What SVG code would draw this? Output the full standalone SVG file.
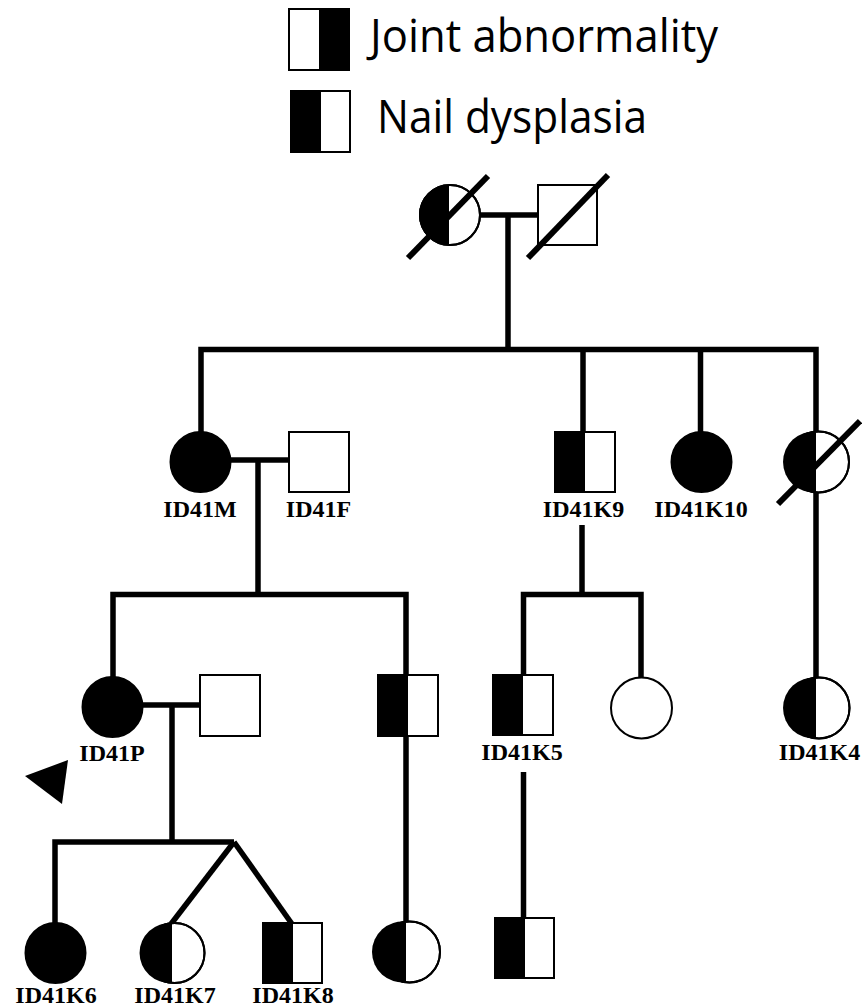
<svg xmlns="http://www.w3.org/2000/svg" width="862" height="1008" viewBox="0 0 862 1008">
  <style>
    .ln { stroke: #000; stroke-width: 5.5; fill: none; stroke-linejoin: miter; stroke-linecap: butt; }
    .shape { fill: #fff; stroke: #000; stroke-width: 2; }
    .outline { fill: none; stroke: #000; stroke-width: 2; }
    .half { fill: #000; stroke: none; }
    .full { fill: #000; stroke: #000; stroke-width: 2; }
    .slash { stroke: #000; stroke-width: 6; stroke-linecap: butt; }
    .label { font-family: "Liberation Serif", "Times New Roman", serif; font-weight: bold; font-size: 24px; text-anchor: middle; fill: #000; }
    .legend { font-family: "Open Sans", "Liberation Sans", sans-serif; font-size: 46px; fill: #000; }
  </style>

  <!-- Legend -->
  <g id="legend">
    <g id="legend-joint">
      <rect class="shape" x="289" y="9" width="60" height="61"/>
      <rect class="half" x="319" y="9" width="30" height="61"/>
      <rect class="outline" x="289" y="9" width="60" height="61"/>
      <text class="legend" x="370" y="52" textLength="348" lengthAdjust="spacingAndGlyphs">Joint abnormality</text>
    </g>
    <g id="legend-nail">
      <rect class="shape" x="291" y="91" width="59" height="61"/>
      <rect class="half" x="291" y="91" width="30" height="61"/>
      <rect class="outline" x="291" y="91" width="59" height="61"/>
      <text class="legend" x="377" y="133" textLength="270" lengthAdjust="spacingAndGlyphs">Nail dysplasia</text>
    </g>
  </g>

  <!-- Connectors -->
  <g id="connectors">
    <!-- generation I couple -->
    <line class="ln" x1="480" y1="215" x2="539" y2="215"/>
    <line class="ln" x1="508" y1="215" x2="508" y2="349.5"/>
    <!-- generation II sibship -->
    <polyline class="ln" points="201,433 201,349.5 816,349.5 816,679"/>
    <line class="ln" x1="583" y1="349.5" x2="583" y2="433"/>
    <line class="ln" x1="700.5" y1="349.5" x2="700.5" y2="433"/>
    <!-- ID41M x ID41F -->
    <line class="ln" x1="230" y1="460" x2="290" y2="460"/>
    <line class="ln" x1="258" y1="460" x2="258" y2="594.5"/>
    <!-- generation III sibship (left) -->
    <polyline class="ln" points="113,678 113,594.5 406,594.5 406,923"/>
    <!-- generation III sibship (right) -->
    <line class="ln" x1="582" y1="525" x2="582" y2="594.5"/>
    <polyline class="ln" points="523.5,676 523.5,594.5 641,594.5 641,678"/>
    <line class="ln" x1="523.5" y1="772" x2="523.5" y2="919"/>
    <!-- ID41P couple -->
    <line class="ln" x1="142" y1="705" x2="201" y2="705"/>
    <line class="ln" x1="172" y1="705" x2="172" y2="842"/>
    <!-- generation IV sibship with twins -->
    <polyline class="ln" points="55,924 55,842 234,842"/>
    <line class="ln" x1="234" y1="842" x2="171" y2="924"/>
    <line class="ln" x1="234" y1="842" x2="292" y2="924"/>
  </g>

  <!-- Generation I -->
  <g id="I-1">
    <circle class="shape" cx="450" cy="215" r="30"/>
    <path class="half" d="M449,185 A30,30 0 0 0 449,245 Z"/>
    <circle class="outline" cx="450" cy="215" r="30"/>
    <line class="slash" x1="408" y1="258" x2="488" y2="176"/>
  </g>
  <g id="I-2">
    <rect class="shape" x="538" y="185" width="59" height="60"/>
    <line class="slash" x1="528" y1="258" x2="608" y2="175"/>
  </g>

  <!-- Generation II -->
  <g id="ID41M">
    <circle class="full" cx="200.5" cy="462" r="30"/>
    <text class="label" x="200" y="517">ID41M</text>
  </g>
  <g id="ID41F">
    <rect class="shape" x="289" y="432" width="60" height="60"/>
    <text class="label" x="318.5" y="517">ID41F</text>
  </g>
  <g id="ID41K9">
    <rect class="shape" x="555" y="432" width="60" height="60"/>
    <rect class="half" x="555" y="432" width="30" height="60"/>
    <rect class="outline" x="555" y="432" width="60" height="60"/>
    <text class="label" x="583.5" y="517">ID41K9</text>
  </g>
  <g id="ID41K10">
    <circle class="full" cx="701.5" cy="462" r="30"/>
    <text class="label" x="701" y="517">ID41K10</text>
  </g>
  <g id="II-5">
    <circle class="shape" cx="818.5" cy="462" r="30.5"/>
    <path class="half" d="M816,431.6 A30.5,30.5 0 1 0 816,492.4 Z"/>
    <circle class="outline" cx="818.5" cy="462" r="30.5"/>
    <line class="slash" x1="778" y1="504" x2="860" y2="421"/>
  </g>

  <!-- Generation III -->
  <g id="ID41P">
    <circle class="full" cx="112.5" cy="707" r="30"/>
    <text class="label" x="112" y="761">ID41P</text>
    <polygon points="25,776 68,760 62,804" fill="#000"/>
  </g>
  <g id="III-2">
    <rect class="shape" x="200" y="675" width="60" height="61"/>
  </g>
  <g id="III-3">
    <rect class="shape" x="378" y="675" width="60" height="61"/>
    <rect class="half" x="378" y="675" width="30" height="61"/>
    <rect class="outline" x="378" y="675" width="60" height="61"/>
  </g>
  <g id="ID41K5">
    <rect class="shape" x="493" y="675" width="60" height="60"/>
    <rect class="half" x="493" y="675" width="30" height="60"/>
    <rect class="outline" x="493" y="675" width="60" height="60"/>
    <text class="label" x="522" y="760">ID41K5</text>
  </g>
  <g id="III-5">
    <circle class="shape" cx="641.5" cy="708" r="30.5"/>
  </g>
  <g id="ID41K4">
    <circle class="shape" cx="819" cy="708" r="30.5"/>
    <path class="half" d="M816,677.6 A30.5,30.5 0 1 0 816,738.4 Z"/>
    <circle class="outline" cx="819" cy="708" r="30.5"/>
    <text class="label" x="819.5" y="760">ID41K4</text>
  </g>

  <!-- Generation IV -->
  <g id="ID41K6">
    <circle class="full" cx="55.5" cy="953" r="30"/>
    <text class="label" x="56" y="1003">ID41K6</text>
  </g>
  <g id="ID41K7">
    <circle class="shape" cx="174.5" cy="953" r="30"/>
    <path class="half" d="M172,923.1 A30,30 0 1 0 172,982.9 Z"/>
    <circle class="outline" cx="174.5" cy="953" r="30"/>
    <text class="label" x="175" y="1003">ID41K7</text>
  </g>
  <g id="ID41K8">
    <rect class="shape" x="263" y="923" width="59" height="60"/>
    <rect class="half" x="263" y="923" width="30" height="60"/>
    <rect class="outline" x="263" y="923" width="59" height="60"/>
    <text class="label" x="293" y="1003">ID41K8</text>
  </g>
  <g id="IV-4">
    <circle class="shape" cx="409.5" cy="952" r="30.5"/>
    <path class="half" d="M406,921.7 A30.5,30.5 0 1 0 406,982.3 Z"/>
    <circle class="outline" cx="409.5" cy="952" r="30.5"/>
  </g>
  <g id="IV-5">
    <rect class="shape" x="495" y="918" width="59" height="60"/>
    <rect class="half" x="495" y="918" width="30" height="60"/>
    <rect class="outline" x="495" y="918" width="59" height="60"/>
  </g>
</svg>
